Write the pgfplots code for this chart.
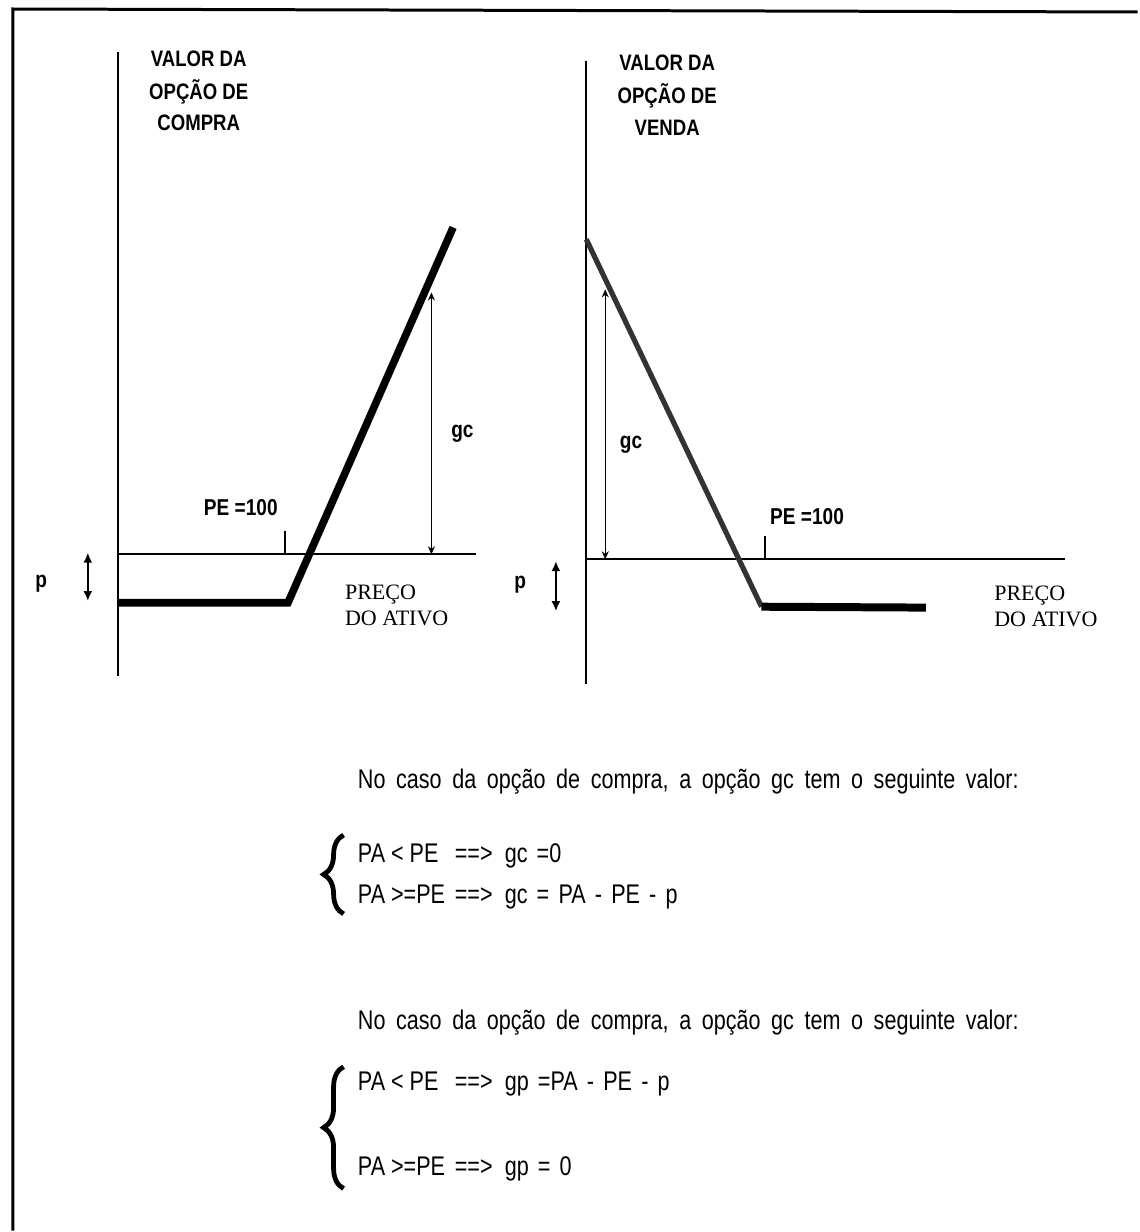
\documentclass[border=0pt]{standalone}
\usepackage{pgfplots}
\pgfplotsset{compat=1.18}
\usepackage{fontspec}
\setmainfont{Liberation Sans}
\newfontfamily\narrowsans[FakeStretch=0.83]{Liberation Sans}
\newfontfamily\bodyfont[FakeStretch=0.8]{Liberation Sans}
\newfontfamily\serifface{Liberation Serif}
\usetikzlibrary{arrows.meta,decorations.pathreplacing}

\pgfplotsset{
  payoff/.style={
    axis lines*=middle,
    axis line style={line width=1pt},
    ticks=none, clip=false, enlargelimits=false,
  },
}
\tikzset{
  valuearrow/.style={line width=0.7pt,
    {Stealth[length=4pt,width=3.5pt]}-{Stealth[length=4pt,width=3.5pt]}},
  premiumarrow/.style={line width=1.1pt,
    {Latex[length=5pt,width=4.5pt]}-{Latex[length=5pt,width=4.5pt]}},
  lbl/.style={font=\narrowsans\bfseries\fontsize{11.5}{13}\selectfont, inner sep=0pt},
  axlbl/.style={font=\serifface\fontsize{11}{13}\selectfont, align=left, inner sep=0pt},
  ttl/.style={font=\narrowsans\bfseries\fontsize{11.2}{13}\selectfont, inner sep=0pt, anchor=base},
  body/.style={font={\bodyfont\fontsize{13.5}{15}\selectfont\spaceskip=5.3pt\relax},
    inner sep=0pt, anchor=base west},
  tight/.style={font=\bodyfont\fontsize{13.5}{15}\selectfont, inner sep=0pt, anchor=base west},
  rhs/.style={font={\bodyfont\fontsize{13.5}{15}\selectfont\spaceskip=4.6pt\relax},
    inner sep=0pt, anchor=base west},
  curly/.style={line width=2.4pt, decorate, decoration={brace, amplitude=10pt}},
}

\begin{document}
\begin{tikzpicture}
\begin{scope}[x=0.5pt,y=-0.5pt]
  \useasboundingbox (0,0) rectangle (1139,1232);
\end{scope}

% Call option: value against the asset price
\begin{axis}[payoff, at={(59pt,-277.5pt)}, anchor=origin,
  x=0.835pt, y=0.835pt, xmin=0, xmax=215, ymin=-73, ymax=301]
  \addplot[black, line width=3.8pt] coordinates {(0,-29) (102,-29) (201,196)};
  \draw[line width=1pt] (axis cs:100,0) -- (axis cs:100,14);
  \draw[valuearrow] (axis cs:188,0) -- (axis cs:188,157);
  \node[lbl] at (axis cs:206.6,72) {gc};
  \node[lbl] at (axis cs:73.7,28) {PE =100};
  \node[lbl] at (axis cs:-46,-17.4) {p};
  \draw[premiumarrow] (axis cs:-18,1) -- (axis cs:-18,-28);
  \node[axlbl, anchor=west] at (axis cs:136,-30.5) {PREÇO\\DO ATIVO};
\end{axis}

% Put option: value against the asset price
\begin{axis}[payoff, at={(293.5pt,-280pt)}, anchor=origin,
  x=0.895pt, y=0.895pt, xmin=0, xmax=268, ymin=-70, ymax=279]
  \addplot[black!80, line width=2.6pt] coordinates {(0,179) (98,-26.5)};
  \addplot[black, line width=4pt] coordinates {(98,-26.5) (190,-27)};
  \draw[line width=1pt] (axis cs:100,0) -- (axis cs:100,13);
  \draw[valuearrow] (axis cs:10.6,0) -- (axis cs:10.6,151);
  \node[lbl] at (axis cs:25,64) {gc};
  \node[lbl] at (axis cs:123.5,24) {PE =100};
  \node[lbl] at (axis cs:-37,-14) {p};
  \draw[premiumarrow] (axis cs:-17,-1) -- (axis cs:-17,-29);
  \node[axlbl, anchor=west] at (axis cs:228,-26.5) {PREÇO\\DO ATIVO};
\end{axis}

\begin{scope}[x=0.5pt,y=-0.5pt]
  % frame
  \draw[line width=1.5pt] (13,1232) -- (13,9) -- (1139,12);
  % axis titles
  \node[ttl] at (199,67)  {VALOR DA};
  \node[ttl] at (199,100) {OPÇÃO DE};
  \node[ttl] at (199,131) {COMPRA};
  \node[ttl] at (668,71)  {VALOR DA};
  \node[ttl] at (668,104) {OPÇÃO DE};
  \node[ttl] at (668,136) {VENDA};
  % call option rule
  \node[body] at (358,789) {No caso da opção de compra, a opção gc tem o seguinte valor:};
  \draw[curly] (344,915) -- (344,836);
  \node[tight] at (358,864) {PA < PE};
  \node[tight] at (455,864) {==>};
  \node[rhs] at (505,864) {gc =0};
  \node[tight] at (358,905) {PA >=PE};
  \node[tight] at (455,905) {==>};
  \node[rhs] at (505,905) {gc = PA - PE - p};
  % put option rule
  \node[body] at (358,1031) {No caso da opção de compra, a opção gc tem o seguinte valor:};
  \draw[curly] (344,1190) -- (344,1068);
  \node[tight] at (358,1092) {PA < PE};
  \node[tight] at (455,1092) {==>};
  \node[rhs] at (505,1092) {gp =PA - PE - p};
  \node[tight] at (358,1177) {PA >=PE};
  \node[tight] at (455,1177) {==>};
  \node[rhs] at (505,1177) {gp = 0};
\end{scope}
\end{tikzpicture}
\end{document}
